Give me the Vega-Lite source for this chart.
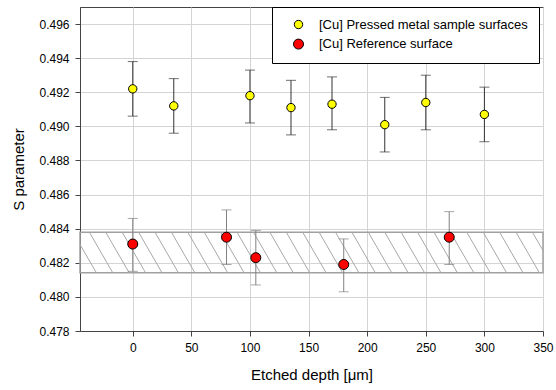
{
  "$schema": "https://vega.github.io/schema/vega-lite/v6.json",
  "width": 463,
  "height": 324,
  "autosize": "none",
  "padding": {"left": 80, "top": 7, "right": 13, "bottom": 59},
  "background": "white",
  "config": {
    "font": "Liberation Sans",
    "view": {"stroke": "#444", "strokeWidth": 1},
    "axis": {
      "labelFont": "Liberation Sans",
      "labelFontSize": 12,
      "labelColor": "#000",
      "labelOverlap": false,
      "labelFlush": false,
      "titleFont": "Liberation Sans",
      "titleFontSize": 15,
      "titleFontWeight": "normal",
      "titleColor": "#000",
      "gridColor": "#d4d4d4",
      "gridWidth": 1,
      "domainColor": "#444",
      "tickColor": "#444",
      "tickSize": 5,
      "labelPadding": 6
    }
  },
  "datasets": {
    "pts": [
      {"series": "[Cu] Pressed metal sample surfaces", "x": 0, "y": 0.4922, "lo": 0.4906, "hi": 0.4938},
      {"series": "[Cu] Pressed metal sample surfaces", "x": 35, "y": 0.4912, "lo": 0.4896, "hi": 0.4928},
      {"series": "[Cu] Pressed metal sample surfaces", "x": 100, "y": 0.4918, "lo": 0.4902, "hi": 0.4933},
      {"series": "[Cu] Pressed metal sample surfaces", "x": 135, "y": 0.4911, "lo": 0.4895, "hi": 0.4927},
      {"series": "[Cu] Pressed metal sample surfaces", "x": 170, "y": 0.4913, "lo": 0.4898, "hi": 0.4929},
      {"series": "[Cu] Pressed metal sample surfaces", "x": 215, "y": 0.4901, "lo": 0.4885, "hi": 0.4917},
      {"series": "[Cu] Pressed metal sample surfaces", "x": 250, "y": 0.4914, "lo": 0.4898, "hi": 0.4930},
      {"series": "[Cu] Pressed metal sample surfaces", "x": 300, "y": 0.4907, "lo": 0.4891, "hi": 0.4923},
      {"series": "[Cu] Reference surface", "x": 0, "y": 0.4831, "lo": 0.4815, "hi": 0.4846},
      {"series": "[Cu] Reference surface", "x": 80, "y": 0.4835, "lo": 0.4819, "hi": 0.4851},
      {"series": "[Cu] Reference surface", "x": 105, "y": 0.4823, "lo": 0.4807, "hi": 0.4839},
      {"series": "[Cu] Reference surface", "x": 180, "y": 0.4819, "lo": 0.4803, "hi": 0.4834},
      {"series": "[Cu] Reference surface", "x": 270, "y": 0.4835, "lo": 0.4819, "hi": 0.4850}
    ],
    "band": [{"x0": -45, "x1": 350, "lo": 0.48141, "hi": 0.48379}],
    "hatch": [
      {"h": -65, "h2": -45, "top": 0.48379, "bot": 0.48141},
      {"h": -51, "h2": -31, "top": 0.48379, "bot": 0.48141},
      {"h": -37, "h2": -17, "top": 0.48379, "bot": 0.48141},
      {"h": -23, "h2": -3, "top": 0.48379, "bot": 0.48141},
      {"h": -9, "h2": 11, "top": 0.48379, "bot": 0.48141},
      {"h": 5, "h2": 25, "top": 0.48379, "bot": 0.48141},
      {"h": 19, "h2": 39, "top": 0.48379, "bot": 0.48141},
      {"h": 33, "h2": 53, "top": 0.48379, "bot": 0.48141},
      {"h": 47, "h2": 67, "top": 0.48379, "bot": 0.48141},
      {"h": 61, "h2": 81, "top": 0.48379, "bot": 0.48141},
      {"h": 75, "h2": 95, "top": 0.48379, "bot": 0.48141},
      {"h": 89, "h2": 109, "top": 0.48379, "bot": 0.48141},
      {"h": 103, "h2": 123, "top": 0.48379, "bot": 0.48141},
      {"h": 117, "h2": 137, "top": 0.48379, "bot": 0.48141},
      {"h": 131, "h2": 151, "top": 0.48379, "bot": 0.48141},
      {"h": 145, "h2": 165, "top": 0.48379, "bot": 0.48141},
      {"h": 159, "h2": 179, "top": 0.48379, "bot": 0.48141},
      {"h": 173, "h2": 193, "top": 0.48379, "bot": 0.48141},
      {"h": 187, "h2": 207, "top": 0.48379, "bot": 0.48141},
      {"h": 201, "h2": 221, "top": 0.48379, "bot": 0.48141},
      {"h": 215, "h2": 235, "top": 0.48379, "bot": 0.48141},
      {"h": 229, "h2": 249, "top": 0.48379, "bot": 0.48141},
      {"h": 243, "h2": 263, "top": 0.48379, "bot": 0.48141},
      {"h": 257, "h2": 277, "top": 0.48379, "bot": 0.48141},
      {"h": 271, "h2": 291, "top": 0.48379, "bot": 0.48141},
      {"h": 285, "h2": 305, "top": 0.48379, "bot": 0.48141},
      {"h": 299, "h2": 319, "top": 0.48379, "bot": 0.48141},
      {"h": 313, "h2": 333, "top": 0.48379, "bot": 0.48141},
      {"h": 327, "h2": 347, "top": 0.48379, "bot": 0.48141},
      {"h": 341, "h2": 361, "top": 0.48379, "bot": 0.48141}
    ]
  },
  "layer": [
    {
      "data": {"name": "band"},
      "mark": {"type": "rect", "fill": null, "fillOpacity": 0, "stroke": "#a0a0a0", "strokeWidth": 1.5},
      "encoding": {
        "x": {"field": "x0", "type": "quantitative", "title": "Etched depth [μm]",
              "scale": {"domain": [-45, 350], "nice": false, "zero": false},
              "axis": {"values": [0, 50, 100, 150, 200, 250, 300, 350], "tickCount": 20, "titlePadding": 14}},
        "x2": {"field": "x1"},
        "y": {"field": "lo", "type": "quantitative", "title": "S parameter",
              "scale": {"domain": [0.478, 0.497], "nice": false, "zero": false},
              "axis": {"values": [0.478, 0.48, 0.482, 0.484, 0.486, 0.488, 0.49, 0.492, 0.494, 0.496], "tickCount": 20, "format": ".3f", "titlePadding": 12}},
        "y2": {"field": "hi"}
      }
    },
    {
      "data": {"name": "hatch"},
      "mark": {"type": "rule", "clip": true, "stroke": "#a8a8a8", "strokeWidth": 1},
      "encoding": {
        "x": {"field": "h", "type": "quantitative", "title": "Etched depth [μm]"},
        "x2": {"field": "h2"},
        "y": {"field": "top", "type": "quantitative", "title": "S parameter"},
        "y2": {"field": "bot"}
      }
    },
    {
      "data": {"name": "pts"},
      "transform": [{"filter": "datum.series === '[Cu] Pressed metal sample surfaces'"}],
      "mark": {"type": "rule", "stroke": "#333", "strokeWidth": 1},
      "encoding": {
        "x": {"field": "x", "type": "quantitative", "title": "Etched depth [μm]"},
        "y": {"field": "lo", "type": "quantitative", "title": "S parameter"},
        "y2": {"field": "hi"}
      }
    },
    {
      "data": {"name": "pts"},
      "transform": [{"filter": "datum.series === '[Cu] Reference surface'"}],
      "mark": {"type": "rule", "stroke": "#808080", "strokeWidth": 1},
      "encoding": {
        "x": {"field": "x", "type": "quantitative", "title": "Etched depth [μm]"},
        "y": {"field": "lo", "type": "quantitative", "title": "S parameter"},
        "y2": {"field": "hi"}
      }
    },
    {
      "data": {"name": "pts"},
      "transform": [{"filter": "datum.series === '[Cu] Pressed metal sample surfaces'"}, {"fold": ["lo", "hi"], "as": ["end", "val"]}],
      "mark": {"type": "tick", "orient": "horizontal", "color": "#333", "size": 10, "thickness": 1},
      "encoding": {
        "x": {"field": "x", "type": "quantitative", "title": "Etched depth [μm]"},
        "y": {"field": "val", "type": "quantitative", "title": "S parameter"}
      }
    },
    {
      "data": {"name": "pts"},
      "transform": [{"filter": "datum.series === '[Cu] Reference surface'"}, {"fold": ["lo", "hi"], "as": ["end", "val"]}],
      "mark": {"type": "tick", "orient": "horizontal", "color": "#808080", "size": 10, "thickness": 1},
      "encoding": {
        "x": {"field": "x", "type": "quantitative", "title": "Etched depth [μm]"},
        "y": {"field": "val", "type": "quantitative", "title": "S parameter"}
      }
    },
    {
      "data": {"name": "pts"},
      "mark": {"type": "circle", "stroke": "#000", "strokeWidth": 1, "opacity": 1},
      "encoding": {
        "x": {"field": "x", "type": "quantitative", "title": "Etched depth [μm]"},
        "y": {"field": "y", "type": "quantitative", "title": "S parameter"},
        "color": {
          "field": "series", "type": "nominal",
          "scale": {"domain": ["[Cu] Pressed metal sample surfaces", "[Cu] Reference surface"], "range": ["#ffff00", "#ff0000"]},
          "legend": {
            "orient": "none", "legendX": 192, "legendY": 0, "title": null,
            "fillColor": "white", "strokeColor": "#000", "padding": 11,
            "labelFontSize": 13, "labelFont": "Liberation Sans", "labelColor": "#000", "labelLimit": 400,
            "symbolStrokeColor": "#000", "symbolStrokeWidth": 1, "symbolType": "circle",
            "rowPadding": 4.6, "symbolOffset": 9, "labelOffset": 14
          }
        },
        "size": {
          "field": "series", "type": "nominal",
          "scale": {"domain": ["[Cu] Pressed metal sample surfaces", "[Cu] Reference surface"], "range": [70, 100]},
          "legend": {
            "orient": "none", "legendX": 192, "legendY": 0, "title": null,
            "fillColor": "white", "strokeColor": "#000", "padding": 11,
            "labelFontSize": 13, "labelFont": "Liberation Sans", "labelColor": "#000", "labelLimit": 400,
            "symbolStrokeColor": "#000", "symbolStrokeWidth": 1, "symbolType": "circle",
            "rowPadding": 4.6, "symbolOffset": 9, "labelOffset": 14
          }
        }
      }
    }
  ]
}
